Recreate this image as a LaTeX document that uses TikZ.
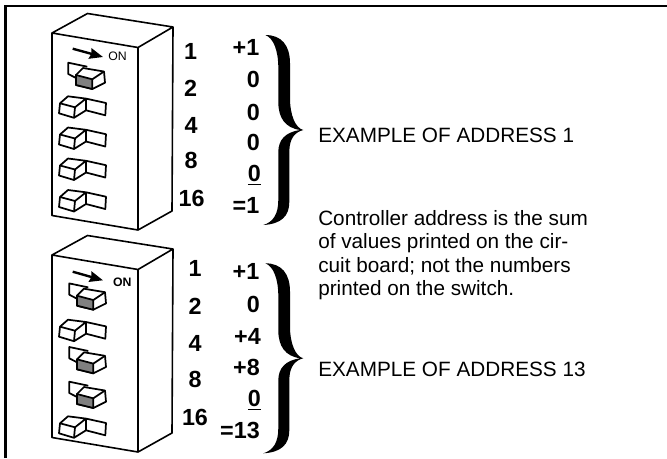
\documentclass[tikz,border=0pt]{standalone}
\usepackage{fontspec}
\setmainfont{Liberation Sans}
\usetikzlibrary{arrows.meta}
\definecolor{swgray}{gray}{0.5}
\tikzset{
  num/.style={font=\fontsize{17.5}{17.5}\bfseries\selectfont,inner sep=0,anchor=base},
  val/.style={font=\fontsize{17.5}{17.5}\bfseries\selectfont,inner sep=0,anchor=base east},
  txt/.style={font=\fontsize{15.55}{17.5}\selectfont,inner sep=0,anchor=base west},
  dipbody/.pic={
    \draw[line width=1.2pt,line join=round] (0,0) -- (86,14.5) -- (86,197) -- (0,182.5) -- cycle
      (0,0) -- (35.5,-19.5) -- (121,-6) -- (120,178) -- (86,197) (86,14.5) -- (121,-6);
  },
  offsw/.pic={
    \draw[line width=1.3pt,line join=round] (26,-4.7) -- (46,-0.3) -- (45.3,12) -- (26,7)
      (0,0) -- (15,4) -- (14,14.5) -- (-1,10) -- cycle
      (0,0) -- (8,-7) -- (26,-4.7) -- (15,4)
      (26,-4.7) -- (26,7) -- (14,14.5);
  },
  onsw/.pic={
    \draw[line width=1.3pt,line join=round] (0,3) -- (-7.7,-1) -- (-7.7,-12.3) -- (11.3,-8.3);
    \draw[line width=1.3pt,line join=round,fill=white] (0,0) -- (7,-7) -- (28,-3.5) -- (29,7.7) -- (16.3,14) -- (0,10) -- cycle;
    \draw[line width=1.3pt,line join=round,fill=swgray] (0,0) -- (16.3,4.3) -- (16.3,14) -- (0,10) -- cycle;
    \draw[line width=1.3pt] (16.3,4.3) -- (28,-3.5);
  },
  bigbrace/.pic={
    \fill (-38,-95) .. controls (-22,-95) and (-13.3,-85) .. (-13.3,-66.7) -- (-13.3,-32)
      .. controls (-13.3,-15) and (-8,-2) .. (0,0)
      .. controls (-8,2) and (-14,8) .. (-14,22) -- (-14,72)
      .. controls (-14,86) and (-22,94) .. (-40,95)
      .. controls (-30,92) and (-25,84) .. (-25,70) -- (-25,22)
      .. controls (-25,10) and (-18,2) .. (-3,0)
      .. controls (-18,-2) and (-25,-12) .. (-25,-28) -- (-25,-62)
      .. controls (-25,-80) and (-30,-92) .. (-38,-95) -- cycle;
  },
  swarrow/.style={line width=1.8pt,-{Stealth[length=10pt,width=8pt,inset=1pt]}}
}
\begin{document}
\begin{tikzpicture}[x=0.75pt,y=-0.75pt]
  \useasboundingbox (0,0) rectangle (667,458);
  % open frame
  \coordinate (fa) at (5.5,458);
  \coordinate (fb) at (5.5,6);
  \coordinate (fc) at (667,6);
  \draw[line width=1.9pt] (fa) -- (fb) -- (fc);

  % upper switch block
  \pic at (52,33) {dipbody};
  \coordinate (a1) at (72.7,48.7);
  \coordinate (a2) at (103,57);
  \draw[swarrow] (a1) -- (a2);
  \node[font=\fontsize{9.2}{10}\selectfont,inner sep=0] (on1) at (117.5,56.7) {ON};
  \pic at (76,75) {onsw};
  \pic at (60,103.3) {offsw};
  \pic at (60,134.5) {offsw};
  \pic at (60,165.5) {offsw};
  \pic at (60,197) {offsw};
  \node[num] (n11) at (190.5,59.3) {1};
  \node[num] (n12) at (190.5,96) {2};
  \node[num] (n13) at (191,133.3) {4};
  \node[num] (n14) at (191,168.3) {8};
  \node[num] (n15) at (191.7,206.7) {16};
  \node[val] (v11) at (259.5,55) {+1};
  \node[val] (v12) at (260,87.3) {0};
  \node[val] (v13) at (260,120) {0};
  \node[val] (v14) at (260,150.7) {0};
  \node[val] (v15) at (261,181.7) {\underline{0}};
  \node[val] (v16) at (259.5,213) {=1};
  \pic at (303.3,130) {bigbrace};

  % lower switch block
  \pic at (52,255) {dipbody};
  \coordinate (b1) at (72.7,271.7);
  \coordinate (b2) at (103,280.3);
  \draw[swarrow] (b1) -- (b2);
  \node[font=\fontsize{9.2}{10}\selectfont\bfseries,inner sep=0] (on2) at (122.3,282.3) {ON};
  \pic at (77,295.7) {onsw};
  \pic at (60,326.7) {offsw};
  \pic at (77,359.3) {onsw};
  \pic at (77,394) {onsw};
  \pic at (60,423.3) {offsw};
  \node[num] (n21) at (195,276.7) {1};
  \node[num] (n22) at (195,314) {2};
  \node[num] (n23) at (195,351) {4};
  \node[num] (n24) at (195,387.3) {8};
  \node[num] (n25) at (195,425) {16};
  \node[val] (v21) at (259.5,279.3) {+1};
  \node[val] (v22) at (260,312.3) {0};
  \node[val] (v23) at (261,344.3) {+4};
  \node[val] (v24) at (260,375.7) {+8};
  \node[val] (v25) at (261,406.7) {\underline{0}};
  \node[val] (v26) at (260,438.3) {=13};
  \pic at (303.3,358.3) {bigbrace};

  % captions
  \node[txt] (ex1) at (318,142.7) {EXAMPLE OF ADDRESS 1};
  \node[txt] (ln1) at (318,225) {Controller address is the sum};
  \node[txt] (ln2) at (318,248.3) {of values printed on the cir-};
  \node[txt] (ln3) at (318,272.3) {cuit board; not the numbers};
  \node[txt] (ln4) at (318,295) {printed on the switch.};
  \node[txt] (ex2) at (318,376.7) {EXAMPLE OF ADDRESS 13};
\end{tikzpicture}
\end{document}
